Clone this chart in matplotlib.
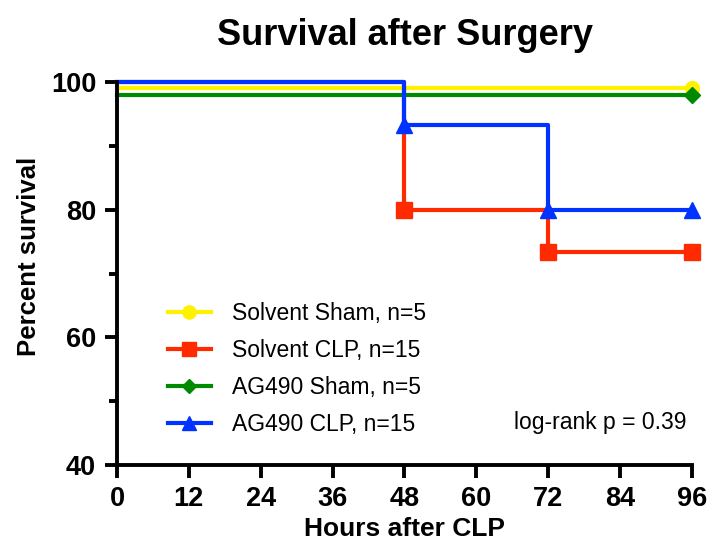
import matplotlib
matplotlib.use("Agg")
import matplotlib.pyplot as plt
from matplotlib.ticker import MultipleLocator

# Data (Kaplan-Meier steps)
sham_solvent_t = [0, 96]
sham_solvent_s = [99, 99]
clp_solvent_t = [0, 48, 72, 96]
clp_solvent_s = [100, 80, 73.33, 73.33]
sham_ag_t = [0, 96]
sham_ag_s = [98, 98]
clp_ag_t = [0, 48, 72, 96]
clp_ag_s = [100, 93.33, 80, 80]

labels = ["Solvent Sham, n=5", "Solvent CLP, n=15", "AG490 Sham, n=5", "AG490 CLP, n=15"]
colors = ["#FFF200", "#FF2A00", "#008A00", "#0033FF"]
markers = ["o", "s", "D", "^"]
msizes = [10, 11, 8, 11]
xticks = [0, 12, 24, 36, 48, 60, 72, 84, 96]
yticks = [40, 60, 80, 100]

fig = plt.figure(figsize=(7.09, 5.47), dpi=100)
ax = fig.add_axes([0.165, 0.150, 0.811, 0.700])

series = [(sham_solvent_t, sham_solvent_s), (clp_solvent_t, clp_solvent_s),
          (sham_ag_t, sham_ag_s), (clp_ag_t, clp_ag_s)]
order = [1, 3, 0, 2]
handles = {}
for i in order:
    t, s = series[i]
    ax.step(t, s, where="post", color=colors[i], lw=3, clip_on=False, zorder=2 + i * 0.1)
    ax.plot(t[1:], s[1:], ls="none", marker=markers[i], ms=msizes[i], color=colors[i],
            clip_on=False, zorder=3 + i * 0.1)
    h, = ax.plot([], [], color=colors[i], lw=3, marker=markers[i], ms=msizes[i] * 0.95)
    handles[i] = h

ax.set_xlim(0, 96)
ax.set_ylim(40, 100)
ax.set_xticks(xticks)
ax.set_yticks(yticks)
ax.yaxis.set_minor_locator(MultipleLocator(10))
for sp in ["top", "right"]:
    ax.spines[sp].set_visible(False)
for sp in ["left", "bottom"]:
    ax.spines[sp].set_linewidth(2.8)
ax.tick_params(axis="both", which="major", width=2.8, length=9, direction="out",
               labelsize=19.5, pad=6)
ax.tick_params(axis="y", which="minor", width=2.8, length=6, direction="out")
for lab in ax.get_xticklabels() + ax.get_yticklabels():
    lab.set_fontfamily("Liberation Sans")
    lab.set_fontweight("bold")

ax.set_xlabel("Hours after CLP", fontsize=19, fontweight="bold", family="Liberation Sans", labelpad=4)
ax.set_ylabel("Percent survival", fontsize=18.5, fontweight="bold", family="Liberation Sans")
ax.yaxis.set_label_coords(-0.132, 0.546)
fig.text(0.571, 0.936, "Survival after Surgery", ha="center", va="center",
         fontsize=26, fontweight="bold", family="Liberation Sans")

leg = ax.legend([handles[i] for i in range(4)], labels, loc="upper left",
                bbox_to_anchor=(0.052, 0.48), frameon=False,
                prop={"family": "Liberation Sans", "size": 16.5},
                handlelength=1.9, labelspacing=0.62, handletextpad=0.9)
ax.text(0.99, 0.11, "log-rank p = 0.39", transform=ax.transAxes, ha="right", va="center",
        fontsize=16.5, family="Liberation Sans")

fig.savefig("out.png", dpi=100)
